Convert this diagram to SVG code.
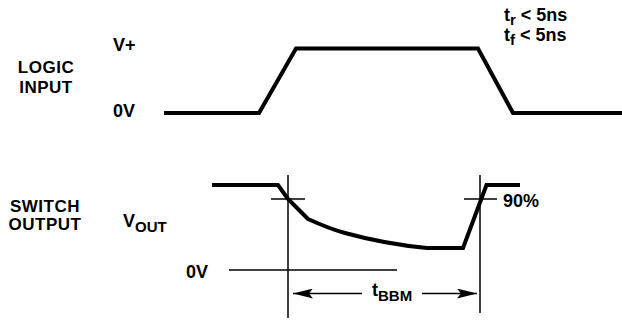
<svg xmlns="http://www.w3.org/2000/svg" width="622" height="320" viewBox="0 0 622 320">
<style>
text{font-family:"Liberation Sans",Arial,sans-serif;font-weight:bold;fill:#000;font-size:18px}
.sub{font-size:15px}
.side{font-size:17px;letter-spacing:0.5px}
.wave{fill:none;stroke:#000;stroke-width:4;stroke-linejoin:miter}
.thin{fill:none;stroke:#000;stroke-width:1.5}
</style>
<defs>
<marker id="ah" viewBox="0 0 20 10" refX="20" refY="5" markerWidth="20" markerHeight="10" markerUnits="userSpaceOnUse" orient="auto-start-reverse">
<path d="M0,0 L20,5 L0,10 L4,5 Z" fill="#000"/>
</marker>
</defs>
<rect width="622" height="320" fill="#fff"/>
<g id="labels">
<text class="side" x="46" y="73" text-anchor="middle">LOGIC</text>
<text class="side" x="46" y="93" text-anchor="middle">INPUT</text>
<text x="113" y="51">V+</text>
<text x="113" y="117">0V</text>
<text x="504" y="21">t<tspan class="sub" dy="4">r</tspan><tspan dy="-4"> &lt; 5ns</tspan></text>
<text x="504" y="41">t<tspan class="sub" dy="4">f</tspan><tspan dy="-4"> &lt; 5ns</tspan></text>
<text class="side" x="45" y="212" text-anchor="middle">SWITCH</text>
<text class="side" x="45" y="230" text-anchor="middle">OUTPUT</text>
<text x="123" y="227">V<tspan class="sub" dy="5">OUT</tspan></text>
<text x="186" y="278">0V</text>
<text x="503" y="207">90%</text>
</g>
<g id="logic-input">
<path class="wave" d="M164,113 L259,113 L296,48.5 L478,48.5 L513,113 L622,113"/>
</g>
<g id="switch-output">
<path class="wave" d="M212,185 L278,185 L288,199 L308,219 Q330,229 345,233 Q385,244 427,248 L463,248 L486.5,185 L520,185"/>
</g>
<g id="guides">
<line class="thin" x1="288" y1="175" x2="288" y2="318"/>
<line class="thin" x1="271" y1="199" x2="305" y2="199"/>
<line class="thin" x1="480" y1="175" x2="480" y2="313"/>
<line class="thin" x1="464" y1="199" x2="497" y2="199"/>
<line class="thin" x1="229" y1="270" x2="397" y2="270"/>
</g>
<g id="connectors">
<line class="thin" x1="362" y1="293.5" x2="293" y2="293.5" marker-end="url(#ah)"/>
<line class="thin" x1="422" y1="293.5" x2="477" y2="293.5" marker-end="url(#ah)"/>
</g>
<g id="tbbm">
<text x="372" y="296">t<tspan class="sub" dy="5">BBM</tspan></text>
</g>
</svg>
